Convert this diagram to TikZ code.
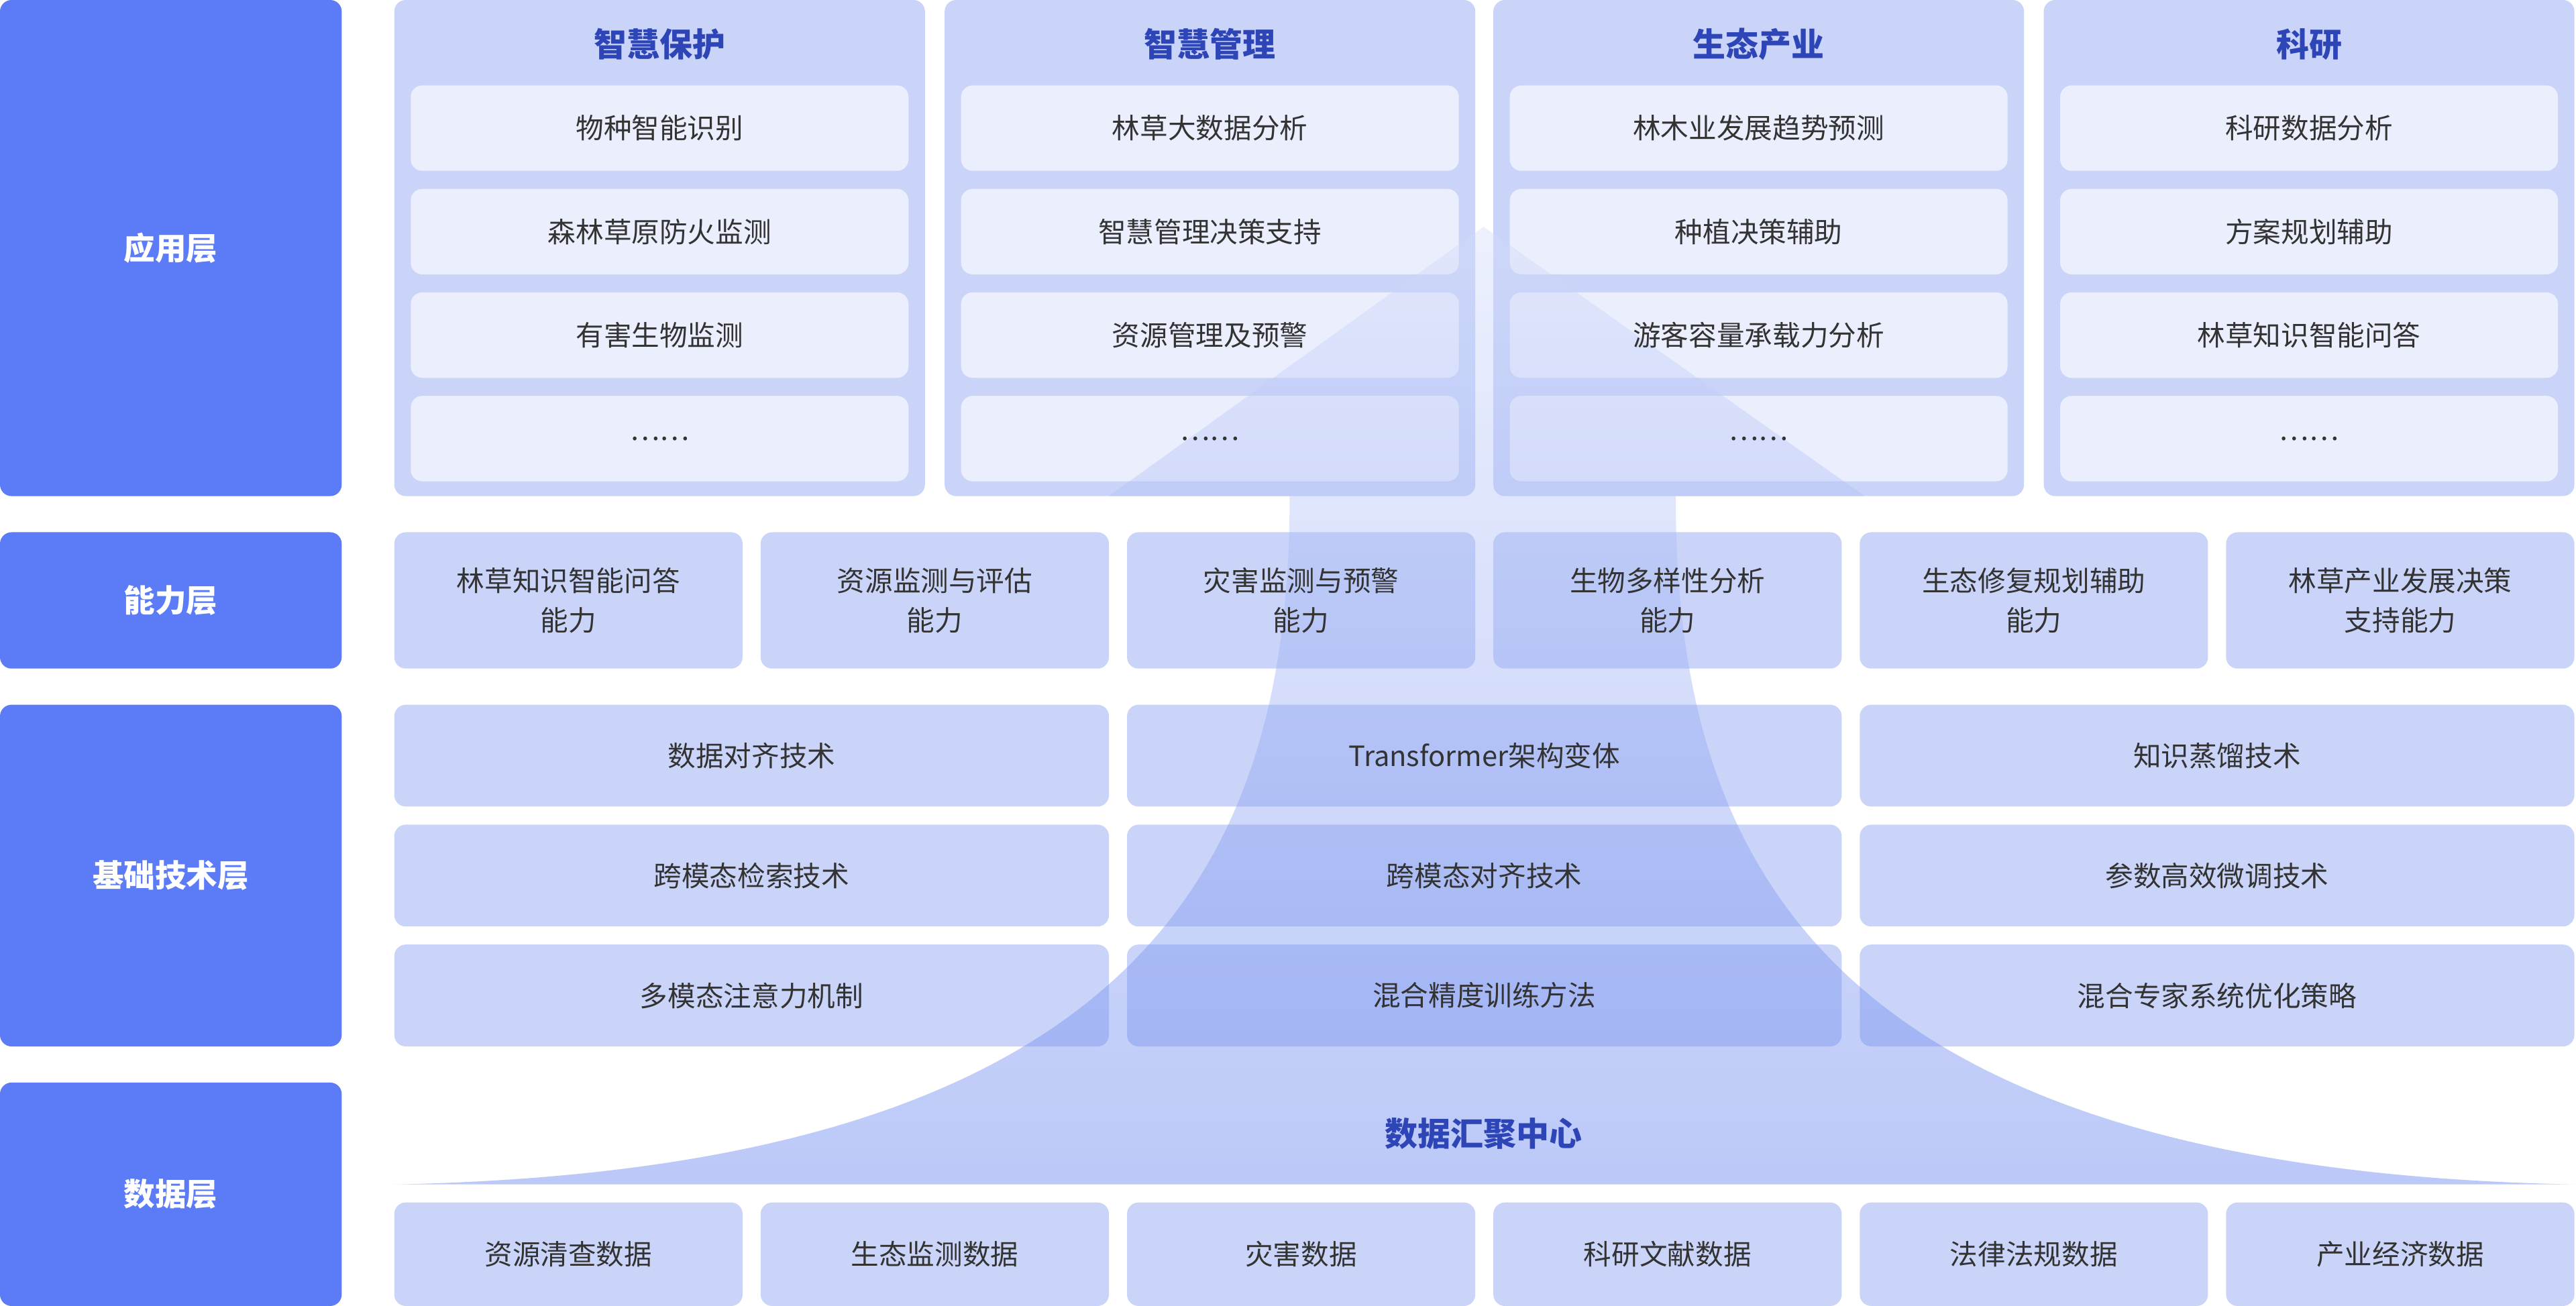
\documentclass[tikz,border=0pt]{standalone}
\usepackage{fontspec}
\setmainfont{Noto Sans CJK SC}
\definecolor{side}{HTML}{5B7CF6}
\definecolor{panel}{HTML}{C9D4F8}
\definecolor{item}{HTML}{EAEEFD}
\definecolor{ttl}{HTML}{2E45B8}
\definecolor{txt}{HTML}{333333}
\definecolor{arrA}{HTML}{B7C6F8}
\definecolor{arrB}{HTML}{5E7DEE}
\pgfdeclarelayer{bg}
\pgfdeclarelayer{mid}
\pgfsetlayers{bg,mid,main}
\tikzset{
 bx/.style={inner sep=0pt,align=center,text=txt,font=\fontsize{17}{24}\selectfont},
 sidebox/.style={bx,text=white,font=\fontsize{19}{24}\selectfont\bfseries},
 pnl/.style={bx},
 itm/.style={bx},
 ttlt/.style={text=ttl,font=\fontsize{20}{24}\selectfont\bfseries}
}
% #1 name #2-#5 coords #6 style #7 fill #8 text
\newcommand{\bxx}[8]{%
 \begin{pgfonlayer}{bg}\fill[#7,rounded corners=7pt] (#2,#3) rectangle (#4,#5);\end{pgfonlayer}%
 \node[#6,minimum width={#4-#2},minimum height={#5-#3}] (#1) at ({(#2+#4)/2},{(#3+#5)/2}) {#8};}
\begin{document}
\begin{tikzpicture}[x=1pt,y=-1pt]
\useasboundingbox (0,0) rectangle (1568,795);
\bxx{s1}{0}{0}{208}{302}{sidebox}{side}{应用层}
\bxx{s2}{0}{324}{208}{407}{sidebox}{side}{能力层}
\bxx{s3}{0}{429}{208}{637}{sidebox}{side}{基础技术层}
\bxx{s4}{0}{659}{208}{795}{sidebox}{side}{数据层}
\foreach \i/\x/\t/\a/\b/\c in {1/240/智慧保护/物种智能识别/森林草原防火监测/有害生物监测,
 2/575/智慧管理/林草大数据分析/智慧管理决策支持/资源管理及预警,
 3/909/生态产业/林木业发展趋势预测/种植决策辅助/游客容量承载力分析,
 4/1244/科研/科研数据分析/方案规划辅助/林草知识智能问答}{
 \bxx{p\i}{\x}{0}{\x+323}{302}{pnl}{panel}{}
 \node[ttlt] (t\i) at (\x+161.5,27) {\t};
 \bxx{pa\i}{\x+10}{52}{\x+313}{104}{itm}{item}{\a}
 \bxx{pb\i}{\x+10}{115}{\x+313}{167}{itm}{item}{\b}
 \bxx{pc\i}{\x+10}{178}{\x+313}{230}{itm}{item}{\c}
 \bxx{pd\i}{\x+10}{241}{\x+313}{293}{itm}{item}{……}
}
\foreach \i/\x/\t in {1/240/林草知识智能问答\\能力,2/463/资源监测与评估\\能力,3/686/灾害监测与预警\\能力,4/909/生物多样性分析\\能力,5/1132/生态修复规划辅助\\能力,6/1355/林草产业发展决策\\支持能力}{
 \bxx{c\i}{\x}{324}{\x+212}{407}{pnl}{panel}{\t}
}
\foreach \i/\x/\a/\b/\c in {1/240/数据对齐技术/跨模态检索技术/多模态注意力机制,2/686/Transformer架构变体/跨模态对齐技术/混合精度训练方法,3/1132/知识蒸馏技术/参数高效微调技术/混合专家系统优化策略}{
 \bxx{ta\i}{\x}{429}{\x+435}{491}{pnl}{panel}{\a}
 \bxx{tb\i}{\x}{502}{\x+435}{564}{pnl}{panel}{\b}
 \bxx{tc\i}{\x}{575}{\x+435}{637}{pnl}{panel}{\c}
}
\foreach \i/\x/\t in {1/240/资源清查数据,2/463/生态监测数据,3/686/灾害数据,4/909/科研文献数据,5/1132/法律法规数据,6/1355/产业经济数据}{
 \bxx{d\i}{\x}{732}{\x+212}{795}{pnl}{panel}{\t}
}
\begin{pgfonlayer}{mid}
\shade[top color=arrA!60!white,bottom color=arrB,opacity=0.42]
 (240,721) .. controls (700,712) and (785,520) .. (785,302) -- (675,302) -- (903,138) -- (1135,302) -- (1020,302)
 .. controls (1020,520) and (1105,712) .. (1567,721) -- cycle;
\end{pgfonlayer}
\node[ttlt] (dc) at (903,690) {数据汇聚中心};
\end{tikzpicture}
\end{document}
